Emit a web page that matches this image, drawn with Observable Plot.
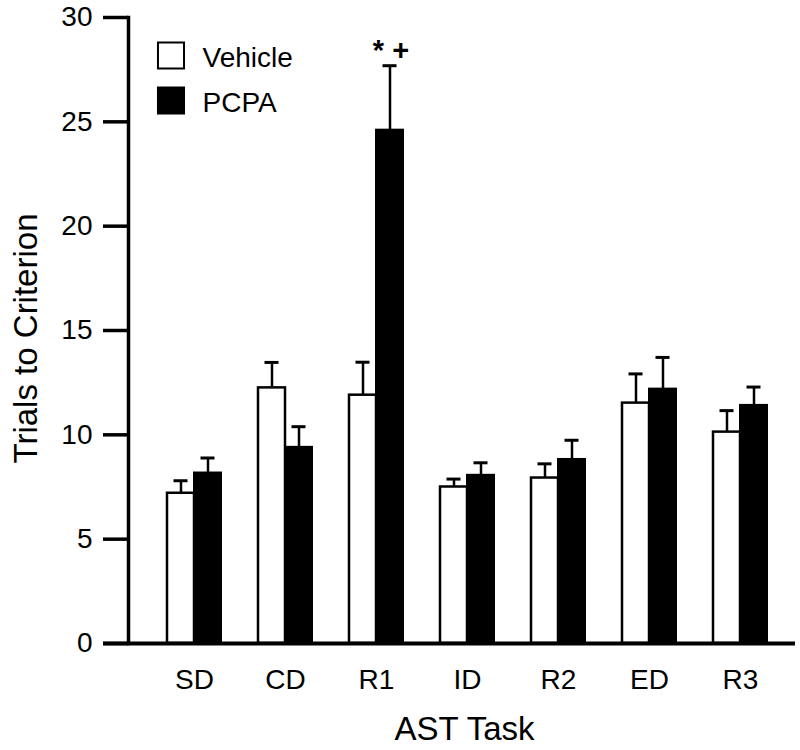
<!DOCTYPE html>
<html>
<head>
<meta charset="utf-8">
<script src="https://cdn.jsdelivr.net/npm/d3@7"></script>
<script src="https://cdn.jsdelivr.net/npm/@observablehq/plot@0.6"></script>
<style>
  html, body { margin: 0; padding: 0; background: white; }
</style>
</head>
<body>
<div id="chart"></div>
<script>
const tasks = ["SD", "CD", "R1", "ID", "R2", "ED", "R3"];
const vehicle = [7.2, 12.25, 11.9, 7.5, 7.93, 11.52, 10.13];
const vehicleSE = [0.6, 1.22, 1.58, 0.38, 0.68, 1.4, 1.03];
const pcpa = [8.17, 9.4, 24.6, 8.06, 8.82, 12.19, 11.41];
const pcpaSE = [0.72, 0.99, 3.09, 0.6, 0.92, 1.52, 0.88];
const legendLabels = ["Vehicle", "PCPA"];
const annotation = "* +";
const annotatedTask = "R1";
const yTicks = [0, 5, 10, 15, 20, 25, 30];
const xTitle = "AST Task";
const yTitle = "Trials to Criterion";

const rows = tasks.map((t, i) => ({
  task: t,
  vehicle: vehicle[i],
  vehicleTop: vehicle[i] + vehicleSE[i],
  pcpa: pcpa[i],
  pcpaTop: pcpa[i] + pcpaSE[i]
}));
const annotRows = rows.filter(d => d.task === annotatedTask);

const font = "'Liberation Sans', Arial, Helvetica, sans-serif";

const chart = Plot.plot({
  width: 800,
  height: 750,
  marginLeft: 128,
  marginRight: 5,
  marginTop: 17,
  marginBottom: 107,
  style: { fontFamily: font, fontSize: "28px", background: "white", color: "black" },
  x: { type: "band", domain: tasks, range: [167, 767], paddingInner: 0.407, paddingOuter: 0 },
  y: { domain: [0, 30] },
  marks: [
    // Bars
    Plot.barY(rows, { x: "task", y: "vehicle", insetRight: 27, fill: "white", stroke: "black", strokeWidth: 2.5 }),
    Plot.barY(rows, { x: "task", y: "pcpa", insetLeft: 27, fill: "black", stroke: "black", strokeWidth: 2 }),
    // Error bars
    Plot.ruleX(rows, { x: "task", y1: "vehicle", y2: "vehicleTop", dx: -13.5, stroke: "black", strokeWidth: 2.5 }),
    Plot.ruleX(rows, { x: "task", y1: "pcpa", y2: "pcpaTop", dx: 13.5, stroke: "black", strokeWidth: 2.5 }),
    Plot.tickY(rows, { x: "task", y: "vehicleTop", insetLeft: 6.5, insetRight: 33.5, stroke: "black", strokeWidth: 3 }),
    Plot.tickY(rows, { x: "task", y: "pcpaTop", insetLeft: 33.5, insetRight: 6.5, stroke: "black", strokeWidth: 3 }),
    // Significance annotation
    Plot.text(annotRows, { x: "task", y: "pcpaTop", text: () => annotation, dx: 14.5, dy: -15, fontSize: 29, fontWeight: "bold", lineAnchor: "middle" }),
    // Axes
    Plot.axisY({ ticks: yTicks, tickSize: 25, tickPadding: 11, strokeWidth: 3.5, fontSize: 28, label: null }),
    Plot.axisX({ tickSize: 0, tickPadding: 26, fontSize: 28, label: null }),
    Plot.frame({ anchor: "left", strokeWidth: 3.5 }),
    Plot.ruleY([0], { insetLeft: -25, strokeWidth: 4 }),
    // Axis titles
    Plot.text([yTitle], { frameAnchor: "left", text: d => d, rotate: -90, dx: -102, dy: 8, fontSize: 33, textAnchor: "middle", lineAnchor: "middle" }),
    Plot.text([xTitle], { frameAnchor: "bottom", text: d => d, dx: 2.5, dy: 86, fontSize: 33, textAnchor: "middle", lineAnchor: "middle" }),
    // Legend
    Plot.dot([legendLabels[0]], { frameAnchor: "top-left", dx: 42.5, dy: 38, symbol: "square", r: 14.7, fill: "white", stroke: "black", strokeWidth: 2 }),
    Plot.dot([legendLabels[1]], { frameAnchor: "top-left", dx: 42.5, dy: 83, symbol: "square", r: 14.7, fill: "black", stroke: "black", strokeWidth: 2 }),
    Plot.text([legendLabels[0]], { frameAnchor: "top-left", text: d => d, dx: 74, dy: 41, fontSize: 28, textAnchor: "start", lineAnchor: "middle" }),
    Plot.text([legendLabels[1]], { frameAnchor: "top-left", text: d => d, dx: 74, dy: 86, fontSize: 28, textAnchor: "start", lineAnchor: "middle" })
  ]
});
document.getElementById("chart").appendChild(chart);
</script>
</body>
</html>
